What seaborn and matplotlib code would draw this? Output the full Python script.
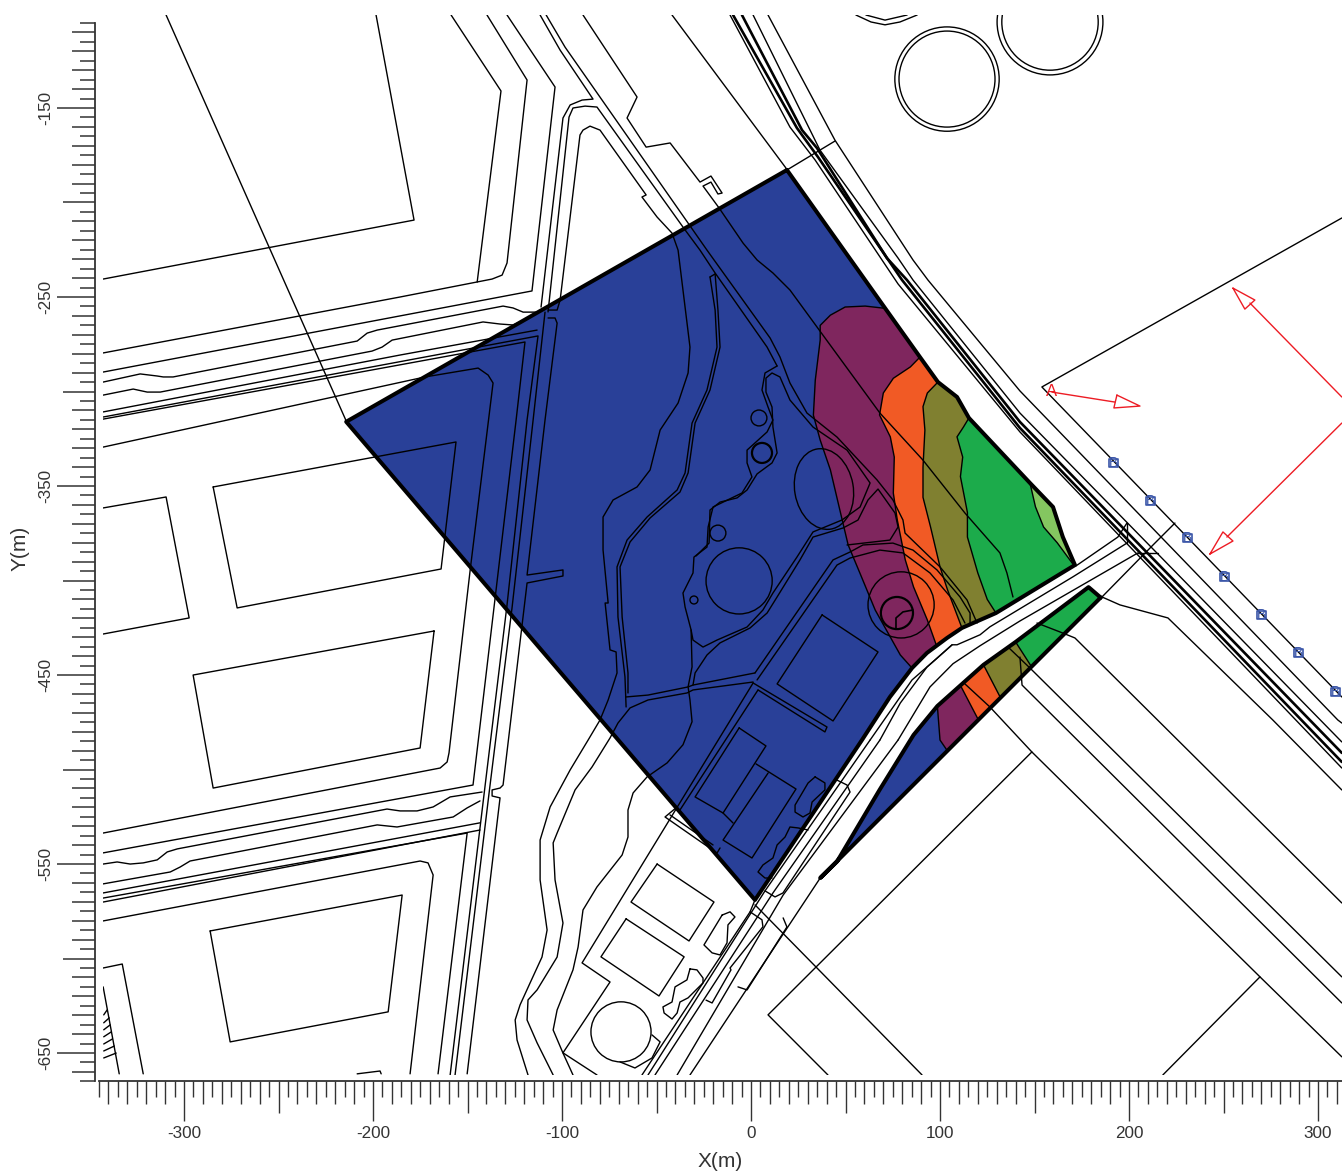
import numpy as np
import pandas as pd
import matplotlib
matplotlib.use('Agg')
import matplotlib.pyplot as plt
from matplotlib.patches import Ellipse, Polygon, Rectangle
import seaborn as sns

# ------------------------------
# 1. Site data, all coordinates in metres (X, Y)
# ------------------------------

# zone boundary
east_edge = [(19, -182.8), (71, -256), (89.4, -281.8), (98.9, -295), (109, -302.9), (115.3, -314),
             (147.6, -348.4), (159.8, -361.1), (165, -377), (171.4, -391.8)]
south_edge = [(171.4, -391.8), (129.6, -417.2), (111.6, -425.1), (103.7, -430.4), (93.1, -438.3),
              (85.2, -446.3), (73.5, -461.6), (58.7, -484.4), (2.1, -569)]
west_corner = [(-214.2, -316)]
lower_top = [(185, -409), (178.6, -403.5), (140, -432.5), (123, -444.6), (98.6, -466.4), (86, -481.7),
             (68, -510.8), (45.5, -548.7), (36.6, -557.4)]

# contour bands
purple_contour = [(71, -256), (60.4, -254.8), (49.8, -255.3), (42, -259.6), (36.6, -265), (36.6, -272.8),
                  (34, -294), (33, -312.5), (36.6, -325.7), (42, -341.5), (47, -362.7), (51.4, -381.2),
                  (58, -397), (65.7, -415.6), (79, -439.4), (85.2, -446.3)]
orange_contour = [(89.4, -281.8), (84.3, -287), (75.3, -293), (70, -300.8), (68, -312.4), (73.7, -324),
                  (75.8, -334.7), (75.3, -353.7), (77.4, -368), (81.6, -389), (86, -403.4), (93.3, -420.9),
                  (98.2, -434.6)]
olive_contour = [(98.9, -295), (93.3, -300.8), (91, -308), (92, -320.4), (91, -340), (91, -356), (95, -371.7),
                 (100, -392.8), (104, -405), (111.6, -425.1)]
green_contour = [(115.3, -314), (112.4, -318.8), (109, -324), (112, -334.7), (110.8, -345), (114.5, -364),
                 (114.5, -377), (120, -396), (125, -410), (129.6, -417.2)]
light_contour = [(147.6, -348.4), (150.5, -361), (154.8, -371.7), (162, -380), (170.7, -391.8), (171.4, -391.8)]

lower_purple = [(98.6, -466.4), (100, -484.4), (103.9, -490.1), (185, -409), (178.6, -403.5), (140, -432.5), (123, -444.6)]
lower_orange = [(110.8, -455.5), (120.3, -473.7), (185, -409), (178.6, -403.5), (140, -432.5), (123, -444.6)]
lower_olive = [(123, -444.6), (132, -462), (185, -409), (178.6, -403.5), (140, -432.5)]
lower_green = [(140, -432.5), (148.4, -445.6), (185, -409), (178.6, -403.5)]

# west side blocks and roads
diag_west = [(-309.5, -100.8), (-214.2, -315.6)]
north_ext = [(19, -182.8), (44.4, -167.5)]
diag_north = [(-41.8, -100.8), (18.5, -181.8)]
block_nw = [(-198.4, -100.8), (-178.3, -209.3), (-342.8, -240.5)]
block_n = [(-158.7, -100.8), (-132.3, -141), (-144.9, -242.1)]
road_1 = [(-342.8, -279.6), (-185.7, -250), (-137, -240.5), (-131.7, -238.4), (-129.1, -232), (-118.5, -135.2), (-139.7, -100.8)]
road_2 = [(-342.8, -289.7), (-115.9, -246.8), (-103.7, -138.9), (-129.1, -100.8)]
road_3 = [(-342.8, -295), (-323.2, -290.7), (-314.2, -291.8), (-311, -292.3), (-305.8, -292.3), (-208.4, -273.3),
          (-203.1, -269.1), (-197.8, -267.5), (-131.2, -254.8), (-125.9, -255.8), (-120.6, -258), (-112.7, -258)]
road_4 = [(-342.8, -301.9), (-326.9, -298.7), (-319.5, -300.3), (-312.6, -300.3), (-200.5, -278.6), (-195.2, -276.5),
          (-189.9, -272.8), (-141.8, -263.2), (-132.8, -264.3), (-125.9, -264.8), (-122.2, -263.2)]
road_5 = [(-342.8, -310.8), (-185.7, -280.7), (-113.2, -267.5)]
road_6a = [(-342.8, -313.5), (-112.7, -270.6), (-118.5, -315.1), (-129.1, -412.9), (-139.7, -500.2), (-159.2, -661.6)]
road_6b = [(-342.8, -314.6), (-119.6, -273.8), (-124.3, -315.1), (-135.4, -409.2), (-147.1, -508.2), (-342.8, -544.1)]
road_7 = [(-342.8, -329.4), (-221.1, -302.9), (-172.5, -292.3), (-144.4, -287.6), (-139.1, -291.3), (-136.5, -295.5),
          (-148.6, -394.4), (-159.8, -491.2), (-160.8, -496), (-164.5, -499.2), (-342.8, -533.6)]
vert_4 = [(-109, -258), (-115.3, -315.1), (-126.4, -414), (-138.6, -512.4), (-156.6, -661.6)]
vert_5 = [(-107.4, -261.1), (-103.7, -261.1), (-102.6, -263.8), (-109, -315.1), (-118.5, -397.1), (-99.5, -394.4),
          (-99.5, -397.6), (-118.5, -401.3), (-131.2, -508.2), (-132.8, -509.8), (-137, -510.8), (-137, -514),
          (-132.8, -515), (-150.2, -661)]
block_a = [(-284.6, -350.5), (-156.1, -326.7), (-164, -393.9), (-271.9, -414.5), (-284.6, -350.5)]
block_b = [(-342.8, -361.6), (-309.5, -355.8), (-297.3, -419.8), (-342.8, -428.3)]
block_c = [(-167.7, -426.7), (-295.2, -450), (-284.6, -509.8), (-175.1, -488.6), (-167.7, -426.7)]
block_d = [(-286.2, -585.4), (-184.6, -566.4), (-192, -628.2), (-275.6, -644.1), (-286.2, -585.4)]
road_8 = [(-342.8, -580.1), (-175.1, -548.4), (-170.9, -549.4), (-168.2, -555.8), (-180.4, -661)]
road_10 = [(-342.8, -550), (-335.4, -548.9), (-328.5, -550), (-321.6, -549.4), (-314.2, -547.8), (-308.9, -543.6),
           (-303.6, -542), (-192.6, -520.9), (-185.7, -521.9), (-176.7, -521.9), (-168.2, -519.8), (-159.2, -514.5), (-142.3, -511.9)]
road_11 = [(-342.8, -560.5), (-307.3, -554.2), (-302.1, -551.6), (-296.8, -548.4), (-197.8, -529.3), (-187.3, -530.4),
           (-157.6, -525.1), (-150.2, -520.3), (-143.4, -516.6)]
road_12 = [(-342.8, -565.3), (-143.4, -528.2)]
road_13a = [(-342.8, -568), (-150.2, -533.6), (-165.6, -661)]
road_13b = [(-342.8, -570.1), (-143.4, -532)]
corner_a = [(-342.8, -605), (-332.7, -602.9), (-321.6, -661)]
corner_b = [(-342.8, -615), (-334.3, -661)]
corner_c = [(-208.4, -661), (-196.3, -659.5), (-195.7, -661)]
hatch_start_y = [-629.8, -634, -637.7, -641.4, -645.2, -648.9, -652.6]
hatch_end_x = [-340.7, -339.6, -339.1, -338.5, -338, -336.9, -335.9]

# upper roads running into the zone
upper_1 = [(-111.6, -100.8), (-101, -119.4), (-83.6, -145.3), (-89.4, -145.8), (-95.7, -148.4), (-99.5, -155.3), (-111.1, -255.3)]
upper_2 = [(-108.4, -100.8), (-98.4, -117.8), (-23.3, -225.2), (10.1, -271.7), (15.3, -281.7), (20.6, -295.5),
           (29.6, -311.4), (45.5, -324.1), (66.7, -346.8), (75.1, -357.4), (80.4, -368), (81.5, -374.9),
           (100, -392.8), (114.3, -410.3), (119.6, -422.5)]
upper_3 = [(-107.4, -257.9), (-96.3, -154.8), (-94.2, -150), (-87.8, -149), (-81.5, -149.5), (-36, -213),
           (-27, -225.2), (-19, -237.3), (8.5, -276.5), (13.8, -286.5)]
river = [(-107.4, -256.9), (-102.6, -256.9), (-101, -251.6), (-90.5, -164.3), (-88.9, -161.7), (-85.2, -159.6),
         (-79.9, -161.7), (-55.5, -196), (-57.7, -197.1), (-49.7, -207.7), (-41.8, -216.2), (-38.6, -225.2),
         (-32.3, -276.5), (-33.3, -290.2), (-38.6, -306.1), (-48.1, -320.4), (-53.4, -341.5), (-60.3, -350.5),
         (-73, -357.4), (-78.3, -366.4), (-78.3, -383.8), (-75.6, -411.9), (-77.2, -411.9), (-74.6, -436.7),
         (-71.4, -437.8), (-70.9, -448.9), (-75.6, -463.2), (-79.9, -473.8), (-86.2, -484.4), (-95.7, -500.2),
         (-106.3, -519.8), (-111.6, -537.3), (-111.6, -558.4), (-107.9, -584.9), (-110.6, -599.2), (-116.9, -612.9),
         (-122.2, -624.5), (-124.8, -632.5), (-123.8, -643.1), (-118, -661.6)]
lake_west = [(13.8, -286.5), (7.4, -290.2), (5.8, -299.2), (9, -308.2), (11.6, -315.1), (8.5, -321.4), (-2.1, -331),
             (-2.1, -337.8), (0.5, -345.2), (-4.8, -353.7), (-20.1, -361.1), (-22.7, -371.7), (-23.3, -382.3),
             (-30.2, -387.6), (-30.7, -396), (-36, -406.6), (-34.9, -414), (-31.7, -426.2), (-31.2, -445.7),
             (-33.3, -456.3), (-32.3, -463.2), (-31.2, -474.7), (-36, -486.9), (-44.4, -496.5), (-55, -503.9),
             (-62.4, -512.4), (-65.1, -521.4), (-65.1, -535.7), (-68.2, -545.2), (-81.5, -562.1), (-88.9, -574.3),
             (-91.5, -593.9), (-94.2, -606), (-102.6, -627.2), (-104.7, -637.8), (-99.5, -650), (-94.2, -661.6)]
lake_east = [(-31.7, -426.2), (-30.7, -431.5), (-25.4, -435.2), (-18, -431.5), (-2.1, -424.6), (6.3, -415.6),
             (11.6, -406.6), (24.3, -387.6), (32.8, -374.3), (48.1, -368), (57.7, -361.1), (63, -348.4), (50.8, -331),
             (32.8, -318.8), (20.6, -304.5), (15.3, -292.3), (11.1, -290.2), (7.9, -292.9), (7.9, -300.3), (11.1, -308.2),
             (11.6, -318.8), (13.8, -332.5), (11.1, -337.8), (3.2, -343.6), (-2.1, -352.1), (-7.4, -356.3), (-16.4, -358.5),
             (-21.7, -362.7), (-22.2, -380.2), (-29.1, -387)]
road_f = [(-21.7, -239.4), (-19, -256.9), (-18, -276.5), (-23.3, -299.2), (-31.2, -316.7), (-34.9, -343.1), (-39.1, -352.1),
          (-55, -366.4), (-65.6, -378.6), (-70.9, -392.8), (-70.4, -419.3), (-66.7, -451), (-66.1, -466.9)]
road_g = [(-19, -237.8), (-17.5, -256.9), (-16.4, -276.5), (-21.7, -299.2), (-29.6, -316.7), (-33.3, -343.1), (-37.6, -353.2),
          (-53.4, -366.9), (-64, -379.6), (-69.3, -392.8), (-68.2, -419.3), (-65.1, -448.9), (-65.1, -459.5)]
road_h = [(-21.7, -239.4), (-19, -237.8)]
cross_top = [(-66.1, -461.6), (-54.5, -460.6), (-33.3, -456.3), (-30.7, -455.3), (2.1, -448.9)]
cross_low = [(1.1, -453.7), (-30.7, -457.9), (-33.9, -459.5), (-54.5, -463.2), (-64, -467.4), (-70.4, -475.4), (-74.6, -483.3),
             (-84.1, -498.6), (-93.1, -510.8), (-102.6, -533.6), (-104.7, -538.8), (-103.7, -558.4), (-99.5, -581.2),
             (-102.6, -599.2), (-113.2, -616.6), (-118, -621.9), (-118.5, -632.5), (-113.2, -644.6), (-104.7, -661.6)]
loop_road = [(-30.7, -455.3), (-29.6, -448.9), (-23.3, -439.4), (-16.4, -433), (-0.5, -425.1), (8.5, -417.2), (13.8, -408.7),
             (25.9, -389.1), (32.8, -377), (48.7, -372.2), (56.6, -368), (61.9, -357.4), (67.2, -351.6), (76.2, -364.3),
             (77.8, -371.7), (73.5, -378.6), (50.8, -381.2)]
arc_a = [(2.1, -448.9), (43.4, -389.1), (52.4, -384.9), (59.2, -381.2), (75.1, -380.2), (85.7, -383.9), (98.4, -394.4),
         (110.6, -408.7), (115.9, -417.2), (115.9, -422.5)]
arc_b = [(3.2, -452.6), (45.5, -391.8), (52.4, -388.1), (68.2, -383.9), (80.4, -385.4), (94.7, -396), (106.9, -410.3), (113.2, -422.5)]
top_road = [(-88.9, -100.8), (-60.3, -144.2), (-65.6, -155.3), (-55.5, -170.7), (-42.8, -168.5), (-27, -189.2), (-21.2, -186),
            (-15.3, -195), (-17.5, -195.5), (-21.2, -189.2), (-25.4, -191.3), (-16.9, -202.9), (-4.2, -221.5), (3.2, -230.4),
            (11.6, -237.3), (20.6, -246.3), (68.2, -311.4), (90.9, -336.2), (113.2, -364.3), (131.7, -385.4), (135.4, -396), (138.6, -408.7)]

# buildings and ponds
building_1 = [(-6.3, -478), (7.9, -487.5), (-14.8, -523), (-29.6, -514.5), (-6.3, -478)]
building_2 = [(2.6, -497), (23.8, -510.3), (0.5, -546.8), (-14.8, -537.3), (9, -501.9)]
building_2b = [(-14.8, -523), (-9.5, -528.3)]
building_3 = [(37.6, -418.2), (67.2, -437.8), (43.4, -474.3), (13.8, -454.7), (37.6, -418.2)]
strip = [(1.1, -454.2), (40.2, -477.5), (39.1, -480.1), (3.7, -457.9)]
pond_1 = [(33.9, -503.9), (39.1, -507.1), (39.1, -510.8), (32.3, -517.2), (31.2, -523), (27.5, -525.1), (23.3, -522.5),
          (23.3, -518.8), (30.2, -507.1), (33.9, -503.9)]
pond_2 = [(30.2, -532), (24.9, -530.9), (20.6, -530.4), (18, -535.7), (13.8, -539.9), (11.6, -546.8), (6.3, -550.5),
          (3.7, -554.2), (7.4, -557.4), (11.1, -557.4)]
pad_1 = [(-49.7, -550), (-19.6, -570.1), (-32.8, -590.7), (-63.5, -570.1), (-49.7, -550)]
pad_2 = [(-66.1, -579), (-35.4, -599.1), (-48.7, -619.8), (-79.4, -599.1), (-66.1, -579)]
tank_tail = [(-69.3, -654.7), (-61.4, -657.9), (-52.4, -652.6), (-48.1, -644.1), (-52.4, -640.4)]
pond_3 = [(-15.3, -577), (-11.1, -575.3), (-8.5, -578), (-12.2, -582.2), (-12.7, -591.7), (-16.4, -598.1), (-20.6, -597),
          (-24.9, -592.8), (-15.3, -577)]
pond_4 = [(-32.3, -605.5), (-28.6, -606), (-25.4, -610.3), (-25.4, -612.9), (-33.3, -620.8), (-37.6, -623), (-39.1, -628.8),
          (-41.8, -632), (-46, -628.8), (-46.6, -625.6), (-41.8, -623), (-40.2, -615), (-33.9, -611.3), (-32.3, -605.5)]
long_i = [(1.1, -454.2), (-89.4, -602.3), (-74.6, -612.4), (-99.5, -649.9), (-81.5, -661.6)]
long_j = [(3.7, -457.9), (-37.6, -521.4)]
pad_s1 = [(-39.1, -519.8), (-45.5, -525.1), (-18, -544.2), (-16.4, -541.5)]
pad_s2 = [(-42.9, -524), (-20.1, -539.9)]
swirl = [(76.7, -425.1), (76.7, -419.8), (80.4, -416.6), (85.7, -415.6)]

# south west road band
band_1 = [(2.1, -569), (-0.5, -575.3), (-57.7, -661.6)]
band_2 = [(63, -484.4), (85.2, -452.6), (97.4, -442), (106.4, -434), (109, -434), (121.2, -428.7), (126.4, -424.5),
          (170.4, -398), (198.9, -380.2)]
band_2b = [(63, -484.4), (7.4, -564.2), (-54.5, -661.6)]
band_3 = [(68.2, -484.4), (79, -464.8), (93.1, -445.8), (106.4, -434)]
band_3b = [(68.2, -484.4), (11.6, -565.3), (-50.8, -661.6)]
band_4 = [(77.8, -484.4), (94.7, -456.3), (106.9, -444), (121.2, -434.5), (142.3, -421.4), (204.7, -385.4)]
band_4b = [(77.8, -484.4), (17, -566.4), (-39.1, -661.6)]
band_5 = [(36.6, -557.4), (-32.3, -661.6)]
box_1 = [(45.5, -505.6), (50.8, -508.2), (52.4, -511.9), (16.9, -565.3), (12.7, -567.4), (7.4, -564.2)]
box_2 = [(-0.5, -575.3), (5.8, -579.5), (6.3, -583.2), (-11.1, -605), (-10.6, -606), (-20.6, -623.5), (-23.8, -622)]
box_3 = [(17, -578.5), (19, -583.3), (-2.1, -616.6), (-6.9, -615)]
stub_6 = [(198.9, -369.6), (198.9, -380.2)]
stub_7 = [(171.9, -392.3), (194.1, -377), (198.9, -369.6)]
stub_8 = [(204.7, -385.4), (215.3, -385.4)]

# east side
east_1 = [(136, -435.2), (147.6, -446.3), (312.6, -609.7)]
east_2 = [(142.3, -440.5), (143.4, -455.3), (312.6, -623.5)]
east_3 = [(112.1, -453.7), (126.4, -466.9), (148.6, -490.7), (269.3, -609.7), (312.6, -652)]
east_4 = [(151.3, -422.5), (165, -427.8), (171.4, -430.4), (312.6, -570.6)]
east_5 = [(185.7, -408.7), (195.2, -412.9), (220.6, -419.8), (276.1, -473.8), (312.6, -510.8)]
east_6 = [(224.3, -369.6), (212.7, -381.2), (185.7, -408.7)]
pad_big_a = [(148.6, -490.7), (9, -629.8), (40.7, -661.6)]
pad_big_b = [(269.3, -609.7), (217.9, -661.6)]
pad_big_c = [(2.1, -571.6), (90.5, -661.6)]
track_e = [(9, -100.8), (44.4, -167), (85.7, -230.4), (93.6, -241), (142.3, -299.7), (310.5, -473.8), (312.6, -475.4)]
track_d = [(1.1, -100.8), (36.5, -172.3), (77.8, -229.4), (85.7, -241), (142.3, -311.4), (312.6, -485.4)]
track_c = [(-4.8, -100.8), (27, -161.7), (34.9, -171.2), (71.9, -229.4), (82.5, -241), (142.3, -316.1), (312.6, -491.2)]
track_b = [(-9.5, -100.8), (24.3, -160.6), (35.4, -175.9), (79.9, -241), (142.3, -319.3), (312.6, -496)]
track_a = [(-11.1, -100.8), (20.6, -160.1), (33.9, -177.5), (77.8, -243.1), (142.3, -321.4), (312.6, -499.2)]
receptor_box = [(312.6, -208.2), (153.9, -297.6), (312.6, -461.6)]
arc_top_a = [(55.5, -100.8), (63.5, -104.5), (70.9, -106), (78.8, -104.5), (87.9, -100.8)]
arc_top_b = [(60.8, -100.8), (70.9, -103.5), (82.6, -100.8)]

# circles: centre X, centre Y, radius
circle_x = [4.2, -17.5, -6.3, -30.2, 79.4, -68.8, 103.7, 103.7, 158.2, 158.2]
circle_y = [-314, -374.9, -400.2, -410.3, -412.9, -638.8, -134.7, -134.7, -104.5, -104.5]
circle_r = [4.2, 4.2, 17.5, 2.1, 17.5, 15.9, 27.6, 25.4, 28, 25.5]
bold_circle_x = [5.8, 77.2]
bold_circle_y = [-332.5, -417.2]
bold_circle_r = [5.3, 8.5]
oval_xy = (38.6, -351.6)
oval_w = 31
oval_h = 43
oval_angle = 10

# red arrows
arrow_a = [(159.2, -300.3), (192.6, -305.6)]
head_a = [(193.6, -301.9), (205.8, -307.7), (192, -308.7), (193.6, -301.9)]
arrow_b = [(312.6, -302.9), (264, -253.2)]
head_b = [(255, -245.3), (266.6, -251.6), (261.3, -256.4), (255, -245.3)]
arrow_c = [(312.6, -316.7), (251.8, -377)]
head_c = [(242.8, -386), (249.7, -374.3), (255, -379.1), (242.8, -386)]

# receptor line points
recept_x = [191.9, 211.5, 231, 250.6, 270.2, 289.8, 309.3]
recept_y = [-337.8, -357.9, -377.5, -398.1, -418.2, -438.3, -459]

x_labels = [-300, -200, -100, 0, 100, 200, 300]
y_labels = [-150, -250, -350, -450, -550, -650]

# ------------------------------
# 2. Figure setup
# ------------------------------

sns.set_style('ticks')
plt.rcParams['font.family'] = ['Liberation Sans', 'DejaVu Sans']
plt.rcParams['axes.unicode_minus'] = False

TEXT = '#333333'
BLUE = '#294098'
PURPLE = '#7F265E'
ORANGE = '#F15A25'
OLIVE = '#808030'
GREEN = '#1CAB4B'
LIGHT = '#84C660'
RED = '#ED1C24'
MARK = '#3A55A8'

W, H = 1342, 1172
fig = plt.figure(figsize=(W / 100, H / 100), dpi=100)
ax = fig.add_axes([99 / W, (H - 1081.4) / H, (W - 99) / W, (1081.4 - 15) / H])
ax.set_xlim(-345, 312.7)
ax.set_ylim(-665, -100.8)


def draw_lines(paths, lw, color='black', zorder=2):
    frames = []
    for i, path in enumerate(paths):
        pts = np.array(path)
        frames.append(pd.DataFrame({'x': pts[:, 0], 'y': pts[:, 1], 'id': i}))
    df = pd.concat(frames, ignore_index=True)
    sns.lineplot(data=df, x='x', y='y', units='id', estimator=None, sort=False, color=color, linewidth=lw,
                 legend=False, zorder=zorder, solid_joinstyle='round', ax=ax)


# ------------------------------
# 3. Contour fills
# ------------------------------

main_zone = east_edge + south_edge[1:] + west_corner
layers = [
    (main_zone, BLUE),
    (purple_contour + south_edge[4::-1] + east_edge[8:1:-1], PURPLE),
    (orange_contour + south_edge[3::-1] + east_edge[8:2:-1], ORANGE),
    (olive_contour + south_edge[1::-1] + east_edge[8:3:-1], OLIVE),
    (green_contour + south_edge[0::-1] + east_edge[8:5:-1], GREEN),
    (light_contour + east_edge[8:6:-1], LIGHT),
    (lower_top, BLUE),
    (lower_purple, PURPLE),
    (lower_orange, ORANGE),
    (lower_olive, OLIVE),
    (lower_green, GREEN),
]
for pts, col in layers:
    ax.add_patch(Polygon(pts, closed=True, facecolor=col, edgecolor='black', linewidth=1.0, zorder=1))

# ------------------------------
# 4. Line work
# ------------------------------

thin = [diag_west, north_ext, diag_north, block_nw, block_n, road_1, road_2, road_3, road_4, road_5, road_6a, road_6b,
        road_7, vert_4, vert_5, block_a, block_b, block_c, block_d, road_8, road_10, road_11, road_12, road_13a, road_13b,
        corner_a, corner_b, corner_c, upper_1, upper_2, upper_3, river, lake_west, lake_east, road_f, road_g, road_h,
        cross_top, cross_low, loop_road, arc_a, arc_b, top_road, building_1, building_2, building_2b, building_3, strip,
        pond_1, pond_2, pad_1, pad_2, tank_tail, pond_3, pond_4, long_i, long_j, pad_s1, pad_s2, band_1, band_2, band_2b,
        band_3, band_3b, band_4, band_4b, band_5, box_1, box_2, box_3, stub_6, stub_7, stub_8, east_1,
        east_2, east_3, east_4, east_5, east_6, pad_big_a, pad_big_b, pad_big_c, track_e, track_d, track_a, receptor_box,
        arc_top_a, arc_top_b]
hatch = [[(-342.5, y), (x, y + 2.6)] for x, y in zip(hatch_end_x, hatch_start_y)]
draw_lines(thin + hatch, 1.0)
draw_lines([swirl], 1.2)
draw_lines([track_b, track_c], 1.9)
draw_lines([main_zone + main_zone[:1], lower_top + [lower_top[0]]], 2.9, zorder=3)

for x, y, r in zip(circle_x, circle_y, circle_r):
    ax.add_patch(Ellipse((x, y), 2 * r, 2 * r, fill=False, edgecolor='black', linewidth=1.0, zorder=2))
for x, y, r in zip(bold_circle_x, bold_circle_y, bold_circle_r):
    ax.add_patch(Ellipse((x, y), 2 * r, 2 * r, fill=False, edgecolor='black', linewidth=1.6, zorder=2))
ax.add_patch(Ellipse(oval_xy, oval_w, oval_h, angle=oval_angle, fill=False, edgecolor='black', linewidth=1.0, zorder=2))

draw_lines([arrow_a, head_a, arrow_b, head_b, arrow_c, head_c], 1.0, color=RED, zorder=4)
ax.text(arrow_a[0][0], arrow_a[0][1] + 0.5, 'A', color=RED, fontsize=12, ha='center', va='center', zorder=4)

sns.scatterplot(x=recept_x, y=recept_y, marker='s', s=40, facecolor='none', edgecolor=MARK, linewidth=1.2,
                zorder=4, legend=False, ax=ax)
for x, y in zip(recept_x, recept_y):
    ax.text(x, y, 'B', color=MARK, fontsize=10, ha='center', va='center', zorder=4)

# clip the drawing to the map frame
frame = Rectangle((-342.9, -661.5), 655.6, 560.7, transform=ax.transData)
for art in list(ax.lines) + list(ax.patches) + list(ax.collections):
    art.set_clip_path(frame)

# ------------------------------
# 5. Axes
# ------------------------------

for side in ['top', 'right']:
    ax.spines[side].set_visible(False)
ax.spines['left'].set_position(('outward', 2.9))
ax.spines['left'].set_bounds(-665, -105)
ax.spines['left'].set_color(TEXT)
ax.spines['bottom'].set_color(TEXT)
ax.spines['left'].set_linewidth(1.3)
ax.spines['bottom'].set_linewidth(1.3)

ax.set_xticks(x_labels)
ax.set_xticklabels([str(v) for v in x_labels], fontsize=12.3, color=TEXT)
ax.set_yticks(y_labels)
ax.set_yticklabels([str(v) for v in y_labels], fontsize=12.3, color=TEXT, rotation=90, va='center')
ax.tick_params(axis='x', which='major', length=28.8, width=1, color=TEXT, pad=3, bottom=True)
ax.tick_params(axis='y', which='major', length=27.4, width=1.1, color=TEXT, pad=2.5, left=True)

x_minor = [v for v in range(-345, 311, 5) if v % 100 != 0]
y_minor = [v for v in range(-665, -104, 5) if (v + 50) % 100 != 0]
ax.set_xticks(x_minor, minor=True)
ax.set_yticks(y_minor, minor=True)
ax.tick_params(axis='x', which='minor', width=1, color=TEXT, bottom=True)
ax.tick_params(axis='y', which='minor', width=1.1, color=TEXT, left=True)


def tick_size(v, short):
    if v % 50 == 0:
        return 23.0
    if v % 10 == 0:
        return 16.6
    return short


for t, v in zip(ax.xaxis.get_minor_ticks(), x_minor):
    t.tick1line.set_markersize(tick_size(v, 11.5))
for t, v in zip(ax.yaxis.get_minor_ticks(), y_minor):
    t.tick1line.set_markersize(tick_size(v, 10.8))

ax.set_xlabel('X(m)', fontsize=15, color=TEXT, labelpad=8)
ax.set_ylabel('Y(m)', fontsize=15, color=TEXT, labelpad=6.5)

fig.savefig('out.png', dpi=100)
